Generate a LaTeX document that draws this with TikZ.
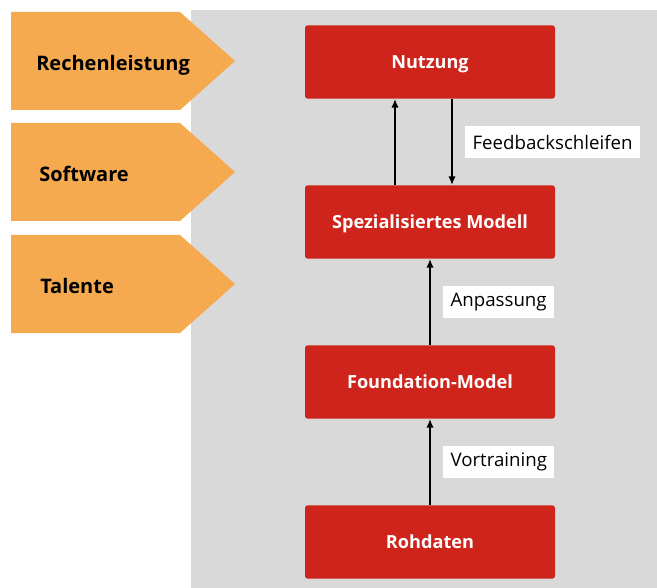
\documentclass[tikz,border=0pt]{standalone}
\usepackage{fontspec}
\setmainfont{Open Sans}
\usetikzlibrary{arrows.meta,positioning}
\definecolor{kiorange}{HTML}{F5AA50}
\definecolor{kired}{HTML}{CE241C}
\definecolor{kigray}{HTML}{D9D9D9}
\begin{document}
\begin{tikzpicture}[x=0.75pt,y=-0.75pt,
  stufe/.style={fill=kired,rounded corners=2pt,minimum width=187.5pt,minimum height=55pt,inner sep=0pt,text=white,text depth=0pt,font=\bfseries\fontsize{13.6}{15}\selectfont},
  faktor/.style={anchor=west,inner sep=0pt,text depth=0pt,yshift=-1.5pt,font=\bfseries\fontsize{15}{17}\selectfont},
  marke/.style={fill=white,inner xsep=5.5pt,inner ysep=0pt,minimum height=24.5pt,font=\fontsize{14}{16}\selectfont},
  pfeil/.style={-{Latex[length=6.5pt,width=5.5pt]},line width=1.5pt}]
\useasboundingbox (0,0) rectangle (657,588);
\fill[kigray] (191,10) rectangle (657,588);
% Faktoren links
\foreach \y in {61,172,284}
  \fill[kiorange] (11,\y-49) -- (180,\y-49) -- (235,\y) -- (180,\y+49) -- (11,\y+49) -- cycle;
\node[faktor] (rechen) at (36,61) {Rechenleistung};
\node[faktor] (soft) at (39,172) {Software};
\node[faktor] (talent) at (40,284) {Talente};
% Stufen
\node[stufe] (nutz) at (430,62) {Nutzung};
\node[stufe] (spez) at (430,222) {Spezialisiertes Modell};
\node[stufe] (found) at (430,382) {Foundation-Model};
\node[stufe] (roh) at (430,542) {Rohdaten};
% Verbindungen
\draw[pfeil] (spez.north -| 395,0) -- (nutz.south -| 395,0);
\draw[pfeil] (nutz.south -| 452,0) -- (spez.north -| 452,0);
\draw[pfeil] (found) -- (spez);
\draw[pfeil] (roh) -- (found);
\node[marke,anchor=west] (fb) at (465,142) {Feedbackschleifen};
\node[marke,anchor=west] (anp) at (443,302) {Anpassung};
\node[marke,anchor=west] (vor) at (443,462) {Vortraining};
\end{tikzpicture}
\end{document}
